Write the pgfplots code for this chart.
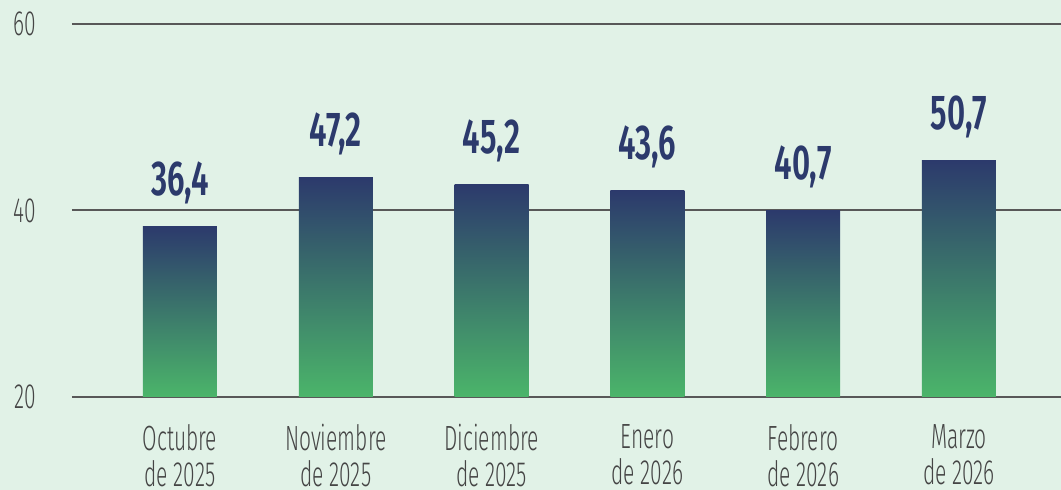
\documentclass[border=0pt]{standalone}
\usepackage{pgfplots}
\pgfplotsset{compat=1.18}
\usepackage{fontspec}
\setmainfont{Fira Sans}[UprightFont=* Light, FakeStretch=0.6]
\newfontfamily\valfont{Fira Sans}[UprightFont=* SemiBold, FakeStretch=0.64]
\definecolor{bg}{HTML}{E1F2E7}
\definecolor{navy}{HTML}{2C3A6C}
\definecolor{barGreen}{HTML}{4BB56A}
\definecolor{gridc}{HTML}{585858}
\definecolor{txt}{HTML}{454545}
\pgfplotsset{barstyle/.style={draw=none, top color=navy, bottom color=barGreen, shading=axis, bar shift=0pt}}
\begin{document}
\begin{tikzpicture}
\useasboundingbox (0,0) rectangle (1061pt,490pt);
\fill[bg] (0,0) rectangle (1061pt,490pt);
\begin{axis}[
  at={(72pt,93pt)}, anchor=south west,
  scale only axis, width=989pt, height=373pt,
  xmin=-0.693, xmax=5.655,
  ymin=0, ymax=40,
  y filter/.expression={y-20},
  ytick={0,20,40}, yticklabels={20,40,60},
  xtick={0,1,2,3,4,5},
  xticklabels={Octubre\\de 2025, Noviembre\\de 2025, Diciembre\\de 2025, Enero\\de 2026, Febrero\\de 2026, Marzo\\de 2026},
  ymajorgrids, major grid style={draw=gridc, line width=2pt},
  axis line style={draw=none}, tick style={draw=none},
  clip=false,
  yticklabel style={anchor=east, inner sep=0pt, xshift=-36pt, text=txt, font=\fontsize{35}{37}\selectfont},
  xticklabel style={anchor=north, inner sep=0pt, yshift=-23pt, align=center, text=txt, font=\fontsize{35}{36}\selectfont},
  ybar, bar width=74pt, bar shift=0pt,
  nodes near coords, point meta=explicit symbolic,
  nodes near coords style={anchor=base, yshift=31pt, inner sep=0pt, text=navy, font=\valfont\fontsize{49}{49}\selectfont},
]
\addplot[barstyle] table[x=x, y=h, meta=lab, row sep=\\] {x h lab\\ 0 38.3 36,4\\};
\addplot[barstyle] table[x=x, y=h, meta=lab, row sep=\\] {x h lab\\ 1 43.5 47,2\\};
\addplot[barstyle] table[x=x, y=h, meta=lab, row sep=\\] {x h lab\\ 2 42.8 45,2\\};
\addplot[barstyle] table[x=x, y=h, meta=lab, row sep=\\] {x h lab\\ 3 42.1 43,6\\};
\addplot[barstyle] table[x=x, y=h, meta=lab, row sep=\\] {x h lab\\ 4 40.0 40,7\\};
\addplot[barstyle] table[x=x, y=h, meta=lab, row sep=\\] {x h lab\\ 5 45.4 50,7\\};
\end{axis}
\end{tikzpicture}
\end{document}
